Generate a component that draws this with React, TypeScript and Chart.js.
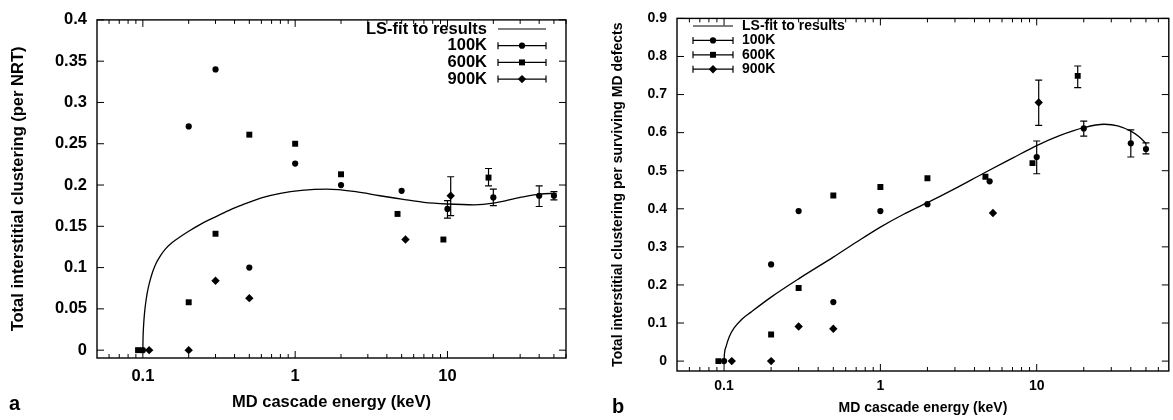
import React, { useEffect, useRef } from 'react';
import { Chart, registerables } from 'chart.js';

Chart.register(...registerables);

const FONT = "'Liberation Sans', Arial, Helvetica, sans-serif";

// ---------------- Panel a ----------------
const aFitX = [0.1, 0.1003, 0.101, 0.102, 0.104, 0.107, 0.111, 0.116, 0.122, 0.13, 0.14, 0.155, 0.175, 0.2, 0.25, 0.3, 0.38, 0.45, 0.6, 0.8, 1.1, 1.6, 2.5, 3.6, 5, 7, 10, 15, 20, 30, 40, 52];
const aFitY = [0, 0.015, 0.028, 0.04, 0.055, 0.07, 0.083, 0.095, 0.105, 0.114, 0.122, 0.13, 0.137, 0.144, 0.1545, 0.1615, 0.1705, 0.176, 0.1845, 0.19, 0.1935, 0.195, 0.192, 0.187, 0.183, 0.179, 0.177, 0.176, 0.178, 0.185, 0.189, 0.19];

const a100X = [0.1, 0.2, 0.3, 0.5, 1, 2, 5, 10, 20, 40, 50];
const a100Y = [0, 0.271, 0.34, 0.1, 0.226, 0.2, 0.193, 0.171, 0.185, 0.187, 0.187];
const a100Err = [null, null, null, null, null, null, null, [0.16, 0.181], [0.175, 0.195], [0.174, 0.199], [0.182, 0.192]];

const a600X = [0.093, 0.2, 0.3, 0.5, 1, 2, 4.7, 9.4, 18.6];
const a600Y = [0, 0.058, 0.141, 0.261, 0.25, 0.213, 0.165, 0.134, 0.209];
const a600Err = [null, null, null, null, null, null, null, null, [0.199, 0.22]];

const a900X = [0.11, 0.2, 0.3, 0.5, 5.3, 10.5];
const a900Y = [0, 0, 0.084, 0.063, 0.134, 0.187];
const a900Err = [null, null, null, null, null, [0.163, 0.21]];

const aYTicks = [0, 0.05, 0.1, 0.15, 0.2, 0.25, 0.3, 0.35, 0.4];

// ---------------- Panel b ----------------
const bFitX = [0.1, 0.1005, 0.103, 0.108, 0.116, 0.13, 0.148, 0.2, 0.3, 0.5, 0.7, 1, 1.4, 2, 3, 4.7, 7, 10, 14, 20, 27, 33, 40, 45, 50];
const bFitY = [0, 0.018, 0.038, 0.064, 0.087, 0.11, 0.128, 0.168, 0.216, 0.273, 0.312, 0.352, 0.385, 0.416, 0.453, 0.496, 0.533, 0.566, 0.592, 0.613, 0.622, 0.618, 0.604, 0.59, 0.572];

const b100X = [0.1, 0.2, 0.3, 0.5, 1, 2, 5, 10, 20, 40, 50];
const b100Y = [0, 0.254, 0.394, 0.155, 0.394, 0.412, 0.472, 0.536, 0.611, 0.572, 0.557];
const b100Err = [null, null, null, null, null, null, null, [0.492, 0.578], [0.591, 0.63], [0.536, 0.607], [0.544, 0.573]];

const b600X = [0.092, 0.2, 0.3, 0.5, 1, 2, 4.7, 9.4, 18.3];
const b600Y = [0, 0.07, 0.192, 0.435, 0.457, 0.48, 0.484, 0.52, 0.749];
const b600Err = [null, null, null, null, null, null, null, null, [0.718, 0.775]];

const b900X = [0.112, 0.2, 0.3, 0.5, 5.25, 10.3];
const b900Y = [0, 0, 0.091, 0.085, 0.389, 0.679];
const b900Err = [null, null, null, null, null, [0.619, 0.738]];

const bYTicks = [0, 0.1, 0.2, 0.3, 0.4, 0.5, 0.6, 0.7, 0.8, 0.9];

// ---------------- shared axis ticks ----------------
const xMajorTicks = [0.1, 1, 10];
const xMinorTicks = [0.06, 0.07, 0.08, 0.09, 0.2, 0.3, 0.4, 0.5, 0.6, 0.7, 0.8, 0.9, 2, 3, 4, 5, 6, 7, 8, 9, 20, 30, 40, 50, 60];

const seriesLabels = ['LS-fit to results', '100K', '600K', '900K'];
const xTitle = 'MD cascade energy (keV)';

function pts(xs: number[], ys: number[]) {
  return xs.map((x, i) => ({ x, y: ys[i] }));
}

function drawMarker(ctx: CanvasRenderingContext2D, style: string, x: number, y: number, r: number) {
  ctx.beginPath();
  if (style === 'circle') {
    ctx.arc(x, y, r, 0, Math.PI * 2);
  } else if (style === 'rect') {
    const s = r / Math.SQRT2;
    ctx.rect(x - s, y - s, 2 * s, 2 * s);
  } else {
    ctx.moveTo(x, y - r);
    ctx.lineTo(x + r, y);
    ctx.lineTo(x, y + r);
    ctx.lineTo(x - r, y);
    ctx.closePath();
  }
  ctx.fill();
}

const errorBarPlugin = {
  id: 'errorBars',
  afterDatasetsDraw(chart: any, _a: any, opts: any) {
    const { ctx } = chart;
    const xs = chart.scales.x;
    const ys = chart.scales.y;
    ctx.save();
    ctx.strokeStyle = '#000';
    ctx.lineWidth = opts.lineWidth;
    chart.data.datasets.forEach((ds: any) => {
      if (!ds.errors) return;
      ds.data.forEach((p: any, i: number) => {
        const e = ds.errors[i];
        if (!e) return;
        const px = xs.getPixelForValue(p.x);
        const y1 = ys.getPixelForValue(e[0]);
        const y2 = ys.getPixelForValue(e[1]);
        const c = opts.cap;
        ctx.beginPath();
        ctx.moveTo(px, y1);
        ctx.lineTo(px, y2);
        ctx.moveTo(px - c, y1);
        ctx.lineTo(px + c, y1);
        ctx.moveTo(px - c, y2);
        ctx.lineTo(px + c, y2);
        ctx.stroke();
      });
    });
    ctx.restore();
  },
};

const customLegendPlugin = {
  id: 'customLegend',
  afterDraw(chart: any, _a: any, o: any) {
    const { ctx } = chart;
    ctx.save();
    ctx.fillStyle = '#000';
    ctx.strokeStyle = '#000';
    ctx.font = `bold ${o.fontSize}px ${FONT}`;
    ctx.textBaseline = 'middle';
    ctx.textAlign = o.align;
    chart.data.datasets.forEach((ds: any, i: number) => {
      const y = o.rowY + i * o.rowDy;
      ctx.fillText(ds.label, o.textX, y);
      ctx.lineWidth = 1.2;
      ctx.beginPath();
      ctx.moveTo(o.x1, y);
      ctx.lineTo(o.x2, y);
      if (ds.errors) {
        ctx.moveTo(o.x1, y - o.cap);
        ctx.lineTo(o.x1, y + o.cap);
        ctx.moveTo(o.x2, y - o.cap);
        ctx.lineTo(o.x2, y + o.cap);
      }
      ctx.stroke();
      if (ds.errors) drawMarker(ctx, ds.pointStyle, (o.x1 + o.x2) / 2, y, ds.pointRadius);
    });
    ctx.restore();
  },
};

const framePlugin = {
  id: 'frame',
  afterDraw(chart: any, _a: any, o: any) {
    const { ctx, chartArea } = chart;
    const { left, right, top, bottom } = chartArea;
    const xs = chart.scales.x;
    const ys = chart.scales.y;
    ctx.save();
    ctx.strokeStyle = '#000';
    ctx.lineWidth = 1.4;
    ctx.strokeRect(left, top, right - left, bottom - top);
    ctx.lineWidth = 1;
    ctx.beginPath();
    ys.ticks.forEach((t: any) => {
      const py = ys.getPixelForValue(t.value);
      ctx.moveTo(left, py);
      ctx.lineTo(left + o.major, py);
      ctx.moveTo(right, py);
      ctx.lineTo(right - o.major, py);
    });
    xs.ticks.forEach((t: any) => {
      const px = xs.getPixelForValue(t.value);
      ctx.moveTo(px, bottom);
      ctx.lineTo(px, bottom - o.major);
      ctx.moveTo(px, top);
      ctx.lineTo(px, top + o.major);
    });
    xMinorTicks.forEach((v) => {
      if (v > xs.max || v < xs.min) return;
      const px = xs.getPixelForValue(v);
      ctx.moveTo(px, bottom);
      ctx.lineTo(px, bottom - o.minor);
      ctx.moveTo(px, top);
      ctx.lineTo(px, top + o.minor);
    });
    ctx.stroke();
    ctx.fillStyle = '#000';
    ctx.font = `bold ${o.tagSize}px ${FONT}`;
    ctx.textAlign = 'left';
    ctx.textBaseline = 'alphabetic';
    ctx.fillText(o.tag, o.tagX, o.tagY);
    ctx.restore();
  },
};

function makeConfig(p: any) {
  const font = { family: FONT, size: p.fontSize, weight: 'bold' as const };
  const lh = p.fontSize * 1.2;
  const scatter = (label: string, xs: number[], ys: number[], errs: any[], style: string, r: number) => ({
    label,
    data: pts(xs, ys),
    errors: errs,
    showLine: false,
    pointStyle: style,
    pointRadius: r,
    pointBackgroundColor: '#000',
    pointBorderWidth: 0,
    borderColor: '#000',
    backgroundColor: '#000',
  });
  return {
    type: 'scatter',
    data: {
      datasets: [
        {
          label: seriesLabels[0],
          data: pts(p.fitX, p.fitY),
          showLine: true,
          pointRadius: 0,
          borderColor: '#000',
          borderWidth: 1.3,
          fill: false,
          cubicInterpolationMode: 'monotone',
        },
        scatter(seriesLabels[1], p.s100X, p.s100Y, p.s100Err, 'circle', 3.1),
        scatter(seriesLabels[2], p.s600X, p.s600Y, p.s600Err, 'rect', 4.2),
        scatter(seriesLabels[3], p.s900X, p.s900Y, p.s900Err, 'rectRot', 4.2),
      ],
    },
    options: {
      responsive: false,
      maintainAspectRatio: false,
      animation: false,
      events: [],
      layout: { padding: { top: p.padTop, right: p.padRight, left: 0, bottom: 0 } },
      plugins: {
        legend: { display: false },
        tooltip: { enabled: false },
        errorBars: { cap: 3.5, lineWidth: 1.2 },
        customLegend: p.legend,
        frame: { major: 7, minor: 4, tag: p.tag, tagX: p.tagX, tagY: p.tagY, tagSize: p.tagSize },
      },
      scales: {
        x: {
          type: 'logarithmic',
          position: 'bottom',
          min: p.xMin,
          max: p.xMax,
          grid: { display: false, drawTicks: false },
          border: { display: false },
          ticks: {
            font,
            color: '#000',
            padding: p.xTickPad,
            autoSkip: false,
            maxRotation: 0,
            callback: (v: any) => String(v),
          },
          afterBuildTicks: (s: any) => {
            s.ticks = xMajorTicks.map((v) => ({ value: v }));
          },
          afterFit: (s: any) => {
            s.height = p.xAxisH;
          },
          title: {
            display: true,
            text: xTitle,
            font,
            color: '#000',
            padding: { top: 0, bottom: p.xTitleY - lh / 2 },
          },
        },
        y: {
          type: 'linear',
          position: 'left',
          min: p.yMin,
          max: p.yMax,
          grid: { display: false, drawTicks: false },
          border: { display: false },
          ticks: {
            font,
            color: '#000',
            padding: 10,
            autoSkip: false,
            callback: (v: any) => String(v),
          },
          afterBuildTicks: (s: any) => {
            s.ticks = p.yTicks.map((v: number) => ({ value: v }));
          },
          afterFit: (s: any) => {
            s.width = p.yAxisW;
          },
          title: {
            display: true,
            text: p.yTitle,
            font,
            color: '#000',
            padding: { top: p.yTitleX - lh / 2, bottom: 0 },
          },
        },
      },
    },
    plugins: [errorBarPlugin, customLegendPlugin, framePlugin],
  };
}

const panelA = {
  fitX: aFitX, fitY: aFitY,
  s100X: a100X, s100Y: a100Y, s100Err: a100Err,
  s600X: a600X, s600Y: a600Y, s600Err: a600Err,
  s900X: a900X, s900Y: a900Y, s900Err: a900Err,
  yTicks: aYTicks, yMin: -0.0095, yMax: 0.4, xMin: 0.05, xMax: 60,
  yTitle: 'Total interstitial clustering (per NRT)',
  fontSize: 16.5, padTop: 14, padRight: 19, yAxisW: 97, xAxisH: 62,
  xTickPad: 9, xTitleY: 18, yTitleX: 18,
  tag: 'a', tagX: 9, tagY: 410, tagSize: 20,
  legend: { align: 'right', textX: 487, x1: 498, x2: 546, rowY: 29, rowDy: 16.7, fontSize: 16.5, cap: 3.5 },
};

const panelB = {
  fitX: bFitX, fitY: bFitY,
  s100X: b100X, s100Y: b100Y, s100Err: b100Err,
  s600X: b600X, s600Y: b600Y, s600Err: b600Err,
  s900X: b900X, s900Y: b900Y, s900Err: b900Err,
  yTicks: bYTicks, yMin: -0.026, yMax: 0.9, xMin: 0.05, xMax: 70,
  yTitle: 'Total interstitial clustering per surviving MD defects',
  fontSize: 14, padTop: 14, padRight: 4, yAxisW: 91, xAxisH: 49,
  xTickPad: 6.6, xTitleY: 12, yTitleX: 32,
  tag: 'b', tagX: 26, tagY: 413, tagSize: 20,
  legend: { align: 'left', textX: 156, x1: 107, x2: 147, rowY: 26, rowDy: 14.4, fontSize: 14, cap: 3.5 },
};

function Panel({ spec, left, width }: { spec: any; left: number; width: number }) {
  const ref = useRef<HTMLCanvasElement>(null);
  useEffect(() => {
    if (!ref.current) return;
    const chart = new Chart(ref.current, makeConfig(spec) as any);
    return () => chart.destroy();
  }, [spec]);
  return (
    <canvas
      ref={ref}
      width={width}
      height={420}
      style={{ position: 'absolute', left, top: 0, width, height: 420, display: 'block' }}
    />
  );
}

export default function App() {
  return (
    <div style={{ position: 'fixed', left: 0, top: 0, width: 1173, height: 420, background: '#fff' }}>
      <Panel spec={panelA} left={0} width={585} />
      <Panel spec={panelB} left={586} width={587} />
    </div>
  );
}
